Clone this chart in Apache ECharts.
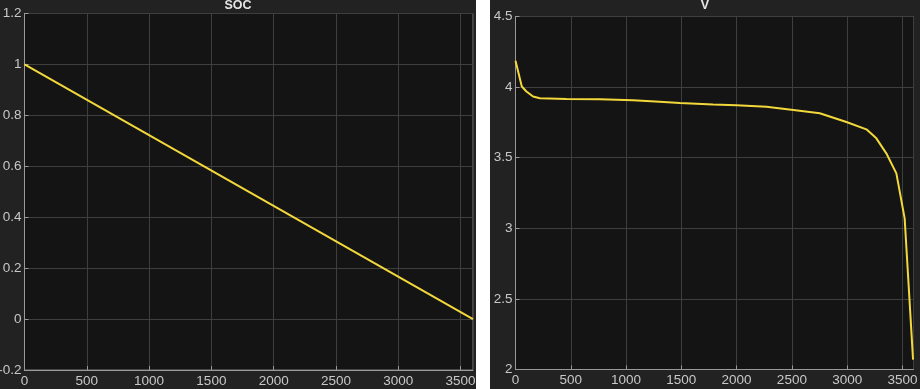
<!DOCTYPE html>
<html><head><meta charset="utf-8">
<script src="https://cdn.jsdelivr.net/npm/echarts@6/dist/echarts.min.js"></script>
<style>
html,body{margin:0;padding:0;background:#fff;width:920px;height:389px;overflow:hidden}
#c1{position:absolute;left:0;top:0;width:476px;height:389px;background:#222222}
#c2{position:absolute;left:490px;top:0;width:430px;height:389px;background:#222222}
</style></head>
<body>
<div id="c1"></div><div id="c2"></div>
<script>
// SOC series
const socTime = [0, 3600];
const socValues = [1, 0];
// Voltage series
const vTime = [0, 57, 99, 159, 220, 461, 762, 1063, 1304, 1486, 1787, 1998, 2269, 2570, 2752, 2993, 3174, 3264, 3354, 3445, 3520, 3596];
const vValues = [4.186, 4.004, 3.969, 3.933, 3.921, 3.916, 3.914, 3.907, 3.897, 3.888, 3.876, 3.872, 3.86, 3.833, 3.815, 3.753, 3.701, 3.637, 3.531, 3.389, 3.07, 2.07];
const titles = ['SOC', 'V'];

const lineColor = '#f3d83b';
const labelColor = '#c8c8c8';
const gridColor = '#3e3e3e';
const boxColor = '#7a7a7a';
const font = 'Liberation Sans, Arial, sans-serif';

function fmt(v){ return String(+v.toFixed(2)); }

function makeOption(title, xs, ys, grid, ymin, ymax, yint){
  return {
    animation: false,
    title: { text: title, left: 'center', top: -1, padding: 0,
      textStyle: { color: '#e6e6e6', fontSize: 12.5, fontWeight: 'bold', fontFamily: font } },
    grid: Object.assign({ show: true, backgroundColor: '#141414', borderColor: boxColor, borderWidth: 1,
      containLabel: false, outerBoundsMode: 'none' }, grid),
    xAxis: {
      type: 'value', min: 0, max: 3600, interval: 500,
      axisLine: { show: true, onZero: false, lineStyle: { color: '#9a9a9a', width: 1 } },
      axisTick: { show: true, inside: true, length: 4, lineStyle: { color: '#9a9a9a' } },
      axisLabel: { color: labelColor, fontSize: 13.5, margin: 4, showMaxLabel: false, formatter: fmt, fontFamily: font },
      splitLine: { show: true, lineStyle: { color: gridColor, width: 1 } }
    },
    yAxis: {
      type: 'value', min: ymin, max: ymax, interval: yint,
      axisLine: { show: true, onZero: false, lineStyle: { color: '#9a9a9a', width: 1 } },
      axisTick: { show: true, inside: true, length: 4, lineStyle: { color: '#9a9a9a' } },
      axisLabel: { color: labelColor, fontSize: 13.5, margin: 3, formatter: fmt, fontFamily: font },
      splitLine: { show: true, lineStyle: { color: gridColor, width: 1 } }
    },
    series: [{
      type: 'line', data: xs.map((x, i) => [x, ys[i]]), showSymbol: false,
      lineStyle: { color: lineColor, width: 2 }, smooth: false
    }]
  };
}

const c1 = echarts.init(document.getElementById('c1'));
c1.setOption(makeOption(titles[0], socTime, socValues, { left: 24.5, top: 13.5, right: 3, bottom: 19 }, -0.2, 1.2, 0.2));
const c2 = echarts.init(document.getElementById('c2'));
c2.setOption(makeOption(titles[1], vTime, vValues, { left: 25.5, top: 16.5, right: 6.5, bottom: 19.5 }, 2, 4.5, 0.5));
</script>
</body></html>
